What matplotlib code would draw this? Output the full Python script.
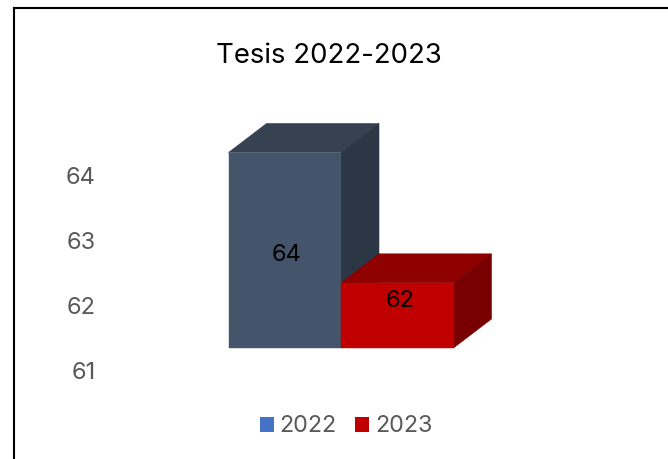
import matplotlib
matplotlib.use("Agg")
import matplotlib.pyplot as plt
from matplotlib.patches import Polygon, Patch
from matplotlib.lines import Line2D
from matplotlib.transforms import ScaledTranslation

series_names = ["2022", "2023"]
series_values = [64, 62]
tick_values = [61, 62, 63, 64]
title_text = "Tesis 2022-2023"

front_colors = ["#44546A", "#C00000"]
top_colors = ["#364251", "#8F0000"]
side_colors = ["#2B3744", "#780000"]
legend_colors = ["#4472C4", "#C00000"]
FONT = "Inter"
W, H = 668, 459

plt.rcParams["font.family"] = [FONT, "DejaVu Sans"]
fig = plt.figure(figsize=(W / 100, H / 100), dpi=100, facecolor="white")

# Axes spans the front plane of the 3D bars
left, right, top, bottom = 228.5, 453.5, 152.5, 348.0
ax = fig.add_axes([left / W, 1 - bottom / H, (right - left) / W, (bottom - top) / H])
ax.set_xlim(-0.5, 1.5)
ax.set_ylim(61, 64)
ax.patch.set_visible(False)
for s in ax.spines.values():
    s.set_visible(False)
ax.set_xticks([])

depth_x = 38 / ((right - left) / 2)
depth_y = 29 / ((bottom - top) / 3)
base = tick_values[0]

for i, v in enumerate(series_values):
    x0, x1 = i - 0.5, i + 0.5
    ax.add_patch(Polygon([(x0, v), (x1, v), (x1 + depth_x, v + depth_y), (x0 + depth_x, v + depth_y)],
                         closed=True, fc=top_colors[i], ec=top_colors[i], lw=0.4, clip_on=False, zorder=2 + i))
    ax.add_patch(Polygon([(x1, base), (x1 + depth_x, base + depth_y), (x1 + depth_x, v + depth_y), (x1, v)],
                         closed=True, fc=side_colors[i], ec=side_colors[i], lw=0.4, clip_on=False, zorder=2 + i))
    ax.bar(i, v - base, bottom=base, width=1, color=front_colors[i], edgecolor=front_colors[i],
           linewidth=0.3, clip_on=False, zorder=2.5 + i)

label_offsets = [(2, -5), (3, 14.5)]  # pixels from bar-face centre
for i, v in enumerate(series_values):
    ox, oy = label_offsets[i]
    ax.annotate(str(v), (i, (v + base) / 2), xytext=(ox * 0.72, oy * 0.72),
                textcoords="offset points", ha="center", va="center",
                fontsize=17, color="black", zorder=10)

# Tick labels sit lower than the front plane because of the 3D floor
ax.set_yticks(tick_values)
ax.set_yticklabels([str(t) for t in tick_values])
ax.tick_params(axis="y", length=0, pad=(left - 95.5) * 0.72, labelsize=17, labelcolor="#595959")
shift = ScaledTranslation(0, -22.5 / 100, fig.dpi_scale_trans)
for lab in ax.get_yticklabels():
    lab.set_transform(lab.get_transform() + shift)

fig.text(328.5 / W, 1 - 56 / H, title_text, ha="center", va="center", fontsize=19.8, color="black")

handles = [Patch(facecolor=c, edgecolor="none") for c in legend_colors]
fig.legend(handles, series_names, loc="center", bbox_to_anchor=(346 / W, 1 - 426.5 / H),
           ncol=2, frameon=False, fontsize=16.8, labelcolor="#595959",
           handlelength=0.6, handleheight=0.6, handletextpad=0.24, columnspacing=0.8,
           borderpad=0, borderaxespad=0)

# Outer border: left and top edges are visible
fig.add_artist(Line2D([14 / W, 14 / W], [0, 1 - 7.5 / H], color="black", lw=1.5, transform=fig.transFigure))
fig.add_artist(Line2D([13.5 / W, 1], [1 - 7.5 / H, 1 - 7.5 / H], color="black", lw=1.5, transform=fig.transFigure))

fig.savefig("out.png", dpi=100, facecolor="white")
